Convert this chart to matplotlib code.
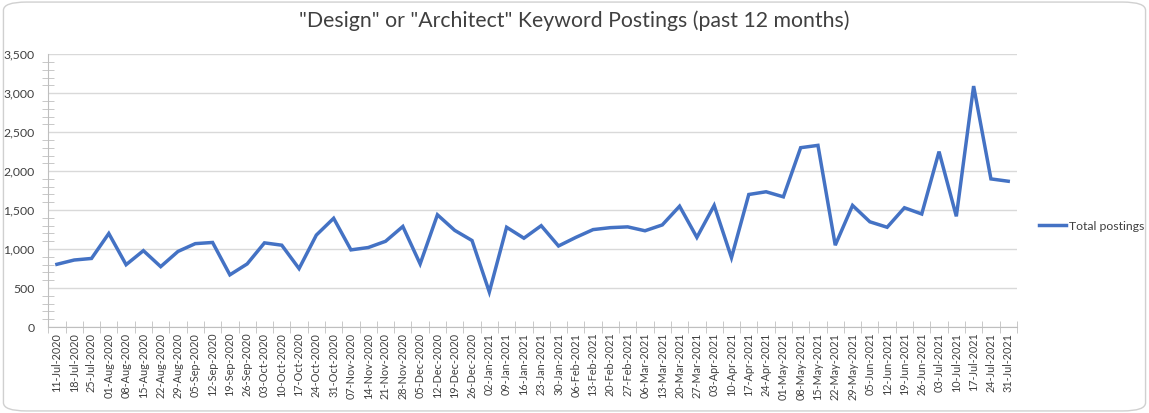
import matplotlib
matplotlib.use("Agg")
import matplotlib.pyplot as plt
from matplotlib.patches import FancyBboxPatch
from matplotlib.ticker import MultipleLocator, FuncFormatter, FixedLocator

weeks = [
    "11-Jul-2020", "18-Jul-2020", "25-Jul-2020", "01-Aug-2020", "08-Aug-2020",
    "15-Aug-2020", "22-Aug-2020", "29-Aug-2020", "05-Sep-2020", "12-Sep-2020",
    "19-Sep-2020", "26-Sep-2020", "03-Oct-2020", "10-Oct-2020", "17-Oct-2020",
    "24-Oct-2020", "31-Oct-2020", "07-Nov-2020", "14-Nov-2020", "21-Nov-2020",
    "28-Nov-2020", "05-Dec-2020", "12-Dec-2020", "19-Dec-2020", "26-Dec-2020",
    "02-Jan-2021", "09-Jan-2021", "16-Jan-2021", "23-Jan-2021", "30-Jan-2021",
    "06-Feb-2021", "13-Feb-2021", "20-Feb-2021", "27-Feb-2021", "06-Mar-2021",
    "13-Mar-2021", "20-Mar-2021", "27-Mar-2021", "03-Apr-2021", "10-Apr-2021",
    "17-Apr-2021", "24-Apr-2021", "01-May-2021", "08-May-2021", "15-May-2021",
    "22-May-2021", "29-May-2021", "05-Jun-2021", "12-Jun-2021", "19-Jun-2021",
    "26-Jun-2021", "03-Jul-2021", "10-Jul-2021", "17-Jul-2021", "24-Jul-2021",
    "31-Jul-2021",
]
total_postings = [
    805, 860, 880, 1200, 800, 980, 775, 970, 1070, 1085,
    670, 810, 1080, 1050, 750, 1180, 1395, 990, 1020, 1100,
    1290, 810, 1440, 1240, 1110, 450, 1280, 1140, 1300, 1040,
    1150, 1250, 1275, 1285, 1235, 1310, 1550, 1150, 1560, 890,
    1700, 1735, 1670, 2300, 2330, 1050, 1560, 1350, 1280, 1530,
    1450, 2250, 1420, 3090, 1900, 1870,
]

plt.rcParams["font.family"] = ["Lato", "DejaVu Sans"]
text_color = "#404040"
grid_color = "#d9d9d9"

fig = plt.figure(figsize=(11.49, 4.13), dpi=100)
fig.patches.append(FancyBboxPatch((0.003, 0.005), 0.994, 0.99,
                                  boxstyle="round,pad=0,rounding_size=0.02",
                                  transform=fig.transFigure, facecolor="none",
                                  edgecolor="#d0d0d0", linewidth=1))
ax = fig.add_axes([0.042, 0.208, 0.843, 0.661])

x = list(range(len(weeks)))
ax.plot(x, total_postings, color="#4472C4", linewidth=2.5, label="Total postings",
        solid_joinstyle="miter")

ax.set_xlim(-0.5, len(weeks) - 0.5)
ax.set_ylim(0, 3500)
ax.yaxis.set_major_locator(MultipleLocator(500))
ax.yaxis.set_minor_locator(MultipleLocator(100))
ax.yaxis.set_major_formatter(FuncFormatter(lambda v, p: f"{int(v):,}"))
ax.grid(True, axis="y", color=grid_color, linewidth=1)
ax.set_axisbelow(True)

ax.set_xticks(x)
ax.set_xticklabels(weeks, rotation=90, fontsize=7.8, color=text_color)
ax.xaxis.set_minor_locator(FixedLocator([i - 0.5 for i in range(len(weeks) + 1)]))
ax.tick_params(axis="x", which="major", length=0, pad=4)
ax.tick_params(axis="x", which="minor", length=8, direction="inout", color="#bfbfbf")
ax.tick_params(axis="y", which="major", length=0, labelsize=8.8, labelcolor=text_color, pad=10)
ax.tick_params(axis="y", which="minor", length=8, direction="inout", color="#bfbfbf")

for side in ["top", "right"]:
    ax.spines[side].set_visible(False)
ax.spines["left"].set_color("#bfbfbf")
ax.spines["bottom"].set_color("#bfbfbf")

fig.suptitle('"Design" or "Architect" Keyword Postings (past 12 months)',
             fontsize=15.3, color=text_color, y=0.975)

ax.legend(loc="center left", bbox_to_anchor=(1.012, 0.37), frameon=False,
          fontsize=8.8, labelcolor=text_color, handlelength=2.2, handletextpad=0.2)

fig.savefig("out.png", dpi=100)
